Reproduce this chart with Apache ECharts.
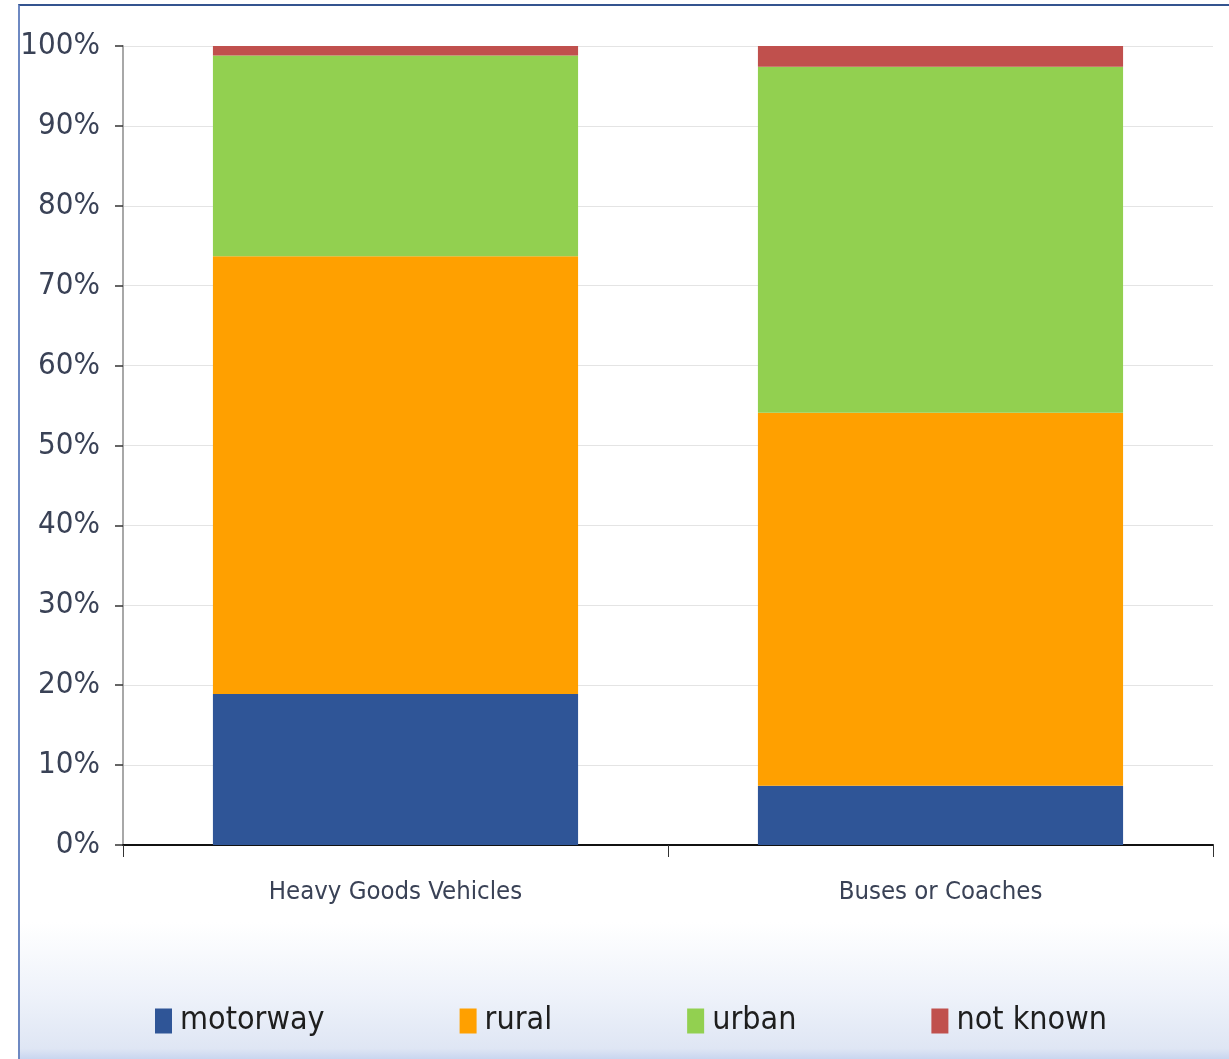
<!DOCTYPE html>
<html>
<head>
<meta charset="utf-8">
<script src="https://cdn.jsdelivr.net/npm/echarts@6/dist/echarts.min.js"></script>
<style>
  html, body { margin: 0; padding: 0; background: #ffffff; }
  #frame {
    position: absolute; left: 18px; top: 4px; width: 1211px; height: 1055px;
    box-sizing: border-box;
    border-top: 2px solid #34548f;
    border-left: 2px solid #6e89c2;
    background: linear-gradient(to bottom, #ffffff 0%, #ffffff 87%, #eef2fa 94%, #dfe6f4 99%, #c9d6ef 100%);
  }
  #chart { position: absolute; left: 0; top: 0; width: 1229px; height: 1059px; }
</style>
</head>
<body>
<div id="frame"></div>
<div id="chart"></div>
<script>
// Share of accidents by road type, per vehicle category (percent)
const categories = ['Heavy Goods Vehicles', 'Buses or Coaches'];
const motorway = [18.9, 7.4];
const rural = [54.8, 46.7];
const urban = [25.1, 43.3];
const notKnown = [1.2, 2.6];

const seriesNames = ['motorway', 'rural', 'urban', 'not known'];
const seriesColors = ['#2f5597', '#ffa000', '#92d050', '#c0504d'];
const seriesValues = [motorway, rural, urban, notKnown];

const narrowFont = '"Liberation Sans Narrow", "DejaVu Sans Condensed", "Liberation Sans", sans-serif';

const chart = echarts.init(document.getElementById('chart'), null, { renderer: 'canvas' });

chart.setOption({
  backgroundColor: 'transparent',
  animation: false,
  grid: { left: 123, right: 16, top: 46, bottom: 214, containLabel: false },
  legend: {
    bottom: 17,
    left: 150,
    itemWidth: 17,
    itemHeight: 25,
    itemGap: 135,
    icon: 'rect',
    textStyle: { fontFamily: narrowFont, fontSize: 32, color: '#1e1e1e', padding: [0, 0, 0, 3] },
    data: seriesNames
  },
  xAxis: {
    type: 'category',
    data: categories,
    boundaryGap: true,
    axisLine: { show: true, lineStyle: { color: '#111111', width: 2 } },
    axisTick: { show: true, alignWithLabel: false, length: 12, lineStyle: { color: '#333333', width: 1 } },
    axisLabel: { margin: 34, fontFamily: narrowFont, fontSize: 25.5, color: '#3a4256' },
    splitLine: { show: false }
  },
  yAxis: {
    type: 'value',
    min: 0,
    max: 100,
    interval: 10,
    axisLine: { show: true, lineStyle: { color: '#a8a8a8', width: 2 } },
    axisTick: { show: true, length: 8, lineStyle: { color: '#333333', width: 1.5 } },
    axisLabel: { formatter: '{value}%', margin: 23, fontFamily: narrowFont, fontSize: 31, color: '#3a4256' },
    splitLine: { show: true, lineStyle: { color: '#e4e4e4', width: 1 } }
  },
  series: seriesNames.map((name, i) => ({
    name: name,
    type: 'bar',
    stack: 'total',
    barCategoryGap: '33%',
    itemStyle: { color: seriesColors[i] },
    data: seriesValues[i]
  }))
});
</script>
</body>
</html>
